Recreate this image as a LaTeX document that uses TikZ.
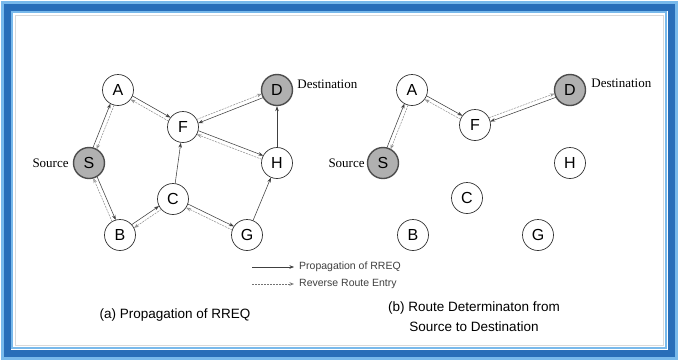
\documentclass[tikz,border=0pt]{standalone}
\usepackage{fontspec}
\setmainfont{Liberation Serif}
\setsansfont{Liberation Sans}
\usetikzlibrary{calc,arrows.meta}
\definecolor{frameblue}{RGB}{40,110,185}
\definecolor{framelight}{RGB}{120,185,235}
\tikzset{
  x=1pt,y=-1pt,
  nd/.style={circle,draw=black!80,line width=0.7pt,fill=white,minimum size=31pt,inner sep=0pt,font=\sffamily\fontsize{16}{16}\selectfont},
  endnd/.style={nd,fill=gray!62,line width=1.4pt,draw=black!70},
  arr/.style={draw=black!75,line width=0.55pt,-{Stealth[length=5pt,width=3.5pt]}},
  prop/.style={arr,shorten >=15.5pt,shorten <=15.5pt},
  rev/.style={draw=black!45,line width=0.5pt,dash pattern=on 2pt off 1pt,-{Stealth[length=5pt,width=3.5pt,open]},shorten >=15.5pt,shorten <=15.5pt},
  lbl/.style={font=\fontsize{13}{13}\selectfont,inner sep=1pt},
  leg/.style={font=\sffamily\fontsize{10.5}{10.5}\selectfont,text=black!75,anchor=west,inner sep=1pt},
  captxt/.style={font=\sffamily\fontsize{13.5}{20}\selectfont,align=center},
}
\newcommand\pairE[2]{%
  \path[prop] ($(#1)!2pt!90:(#2)$) -- ($(#2)!2pt!-90:(#1)$);
  \path[rev] ($(#2)!2pt!90:(#1)$) -- ($(#1)!2pt!-90:(#2)$);
}
\begin{document}
\begin{tikzpicture}
\useasboundingbox (0,0) rectangle (678,360);
\fill[white] (0,0) rectangle (678,360);
% frame
\draw[framelight,line width=3pt] (2,2) rectangle (676,358);
\draw[frameblue,line width=7pt] (7,7) rectangle (671,353);
\draw[framelight,line width=1.2pt] (12,12) rectangle (666,348);
\draw[black!15,line width=0.6pt] (15,15) rectangle (663,345);
% left panel
\node[nd] (A) at (118,90) {A};
\node[nd] (F) at (183,127) {F};
\node[endnd] (D) at (277,90) {D};
\node[nd] (H) at (277,163) {H};
\node[endnd] (S) at (89,163) {S};
\node[nd] (B) at (120,235) {B};
\node[nd] (C) at (173,199) {C};
\node[nd] (G) at (247,235) {G};
\node[lbl,anchor=east] (srcL) at ([xshift=-3pt]S.west) {Source};
\node[lbl,anchor=west] (dstL) at ([xshift=3pt,yshift=6pt]D.east) {Destination};
\pairE{S}{A}
\pairE{A}{F}
\pairE{S}{B}
\pairE{B}{C}
\pairE{C}{G}
\pairE{F}{H}
\pairE{D}{F}
\path[arr] (C) -- (F);
\path[arr] (G) -- (H);
\path[arr] (H) -- (D);
% right panel
\node[nd] (A2) at (412,90) {A};
\node[nd] (F2) at (475,125) {F};
\node[endnd] (D2) at (570,90) {D};
\node[nd] (H2) at (570,163) {H};
\node[endnd] (S2) at (383,163) {S};
\node[nd] (B2) at (413,235) {B};
\node[nd] (C2) at (467,198) {C};
\node[nd] (G2) at (538,235) {G};
\node[lbl,anchor=east] (srcR) at ([xshift=-1pt]S2.west) {Source};
\node[lbl,anchor=west] (dstR) at ([xshift=4pt,yshift=7pt]D2.east) {Destination};
\pairE{S2}{A2}
\pairE{A2}{F2}
\pairE{D2}{F2}
% legend
\coordinate (l1a) at (252,267);
\coordinate (l1b) at (294,267);
\coordinate (l2a) at (252,284);
\coordinate (l2b) at (294,284);
\draw[draw=black!75,line width=0.5pt,-{Stealth[length=4.5pt,width=3.5pt]}] (l1a) -- (l1b);
\draw[draw=black!55,line width=0.5pt,dash pattern=on 2pt off 1pt,-{Stealth[length=4.5pt,width=3.5pt,open]}] (l2a) -- (l2b);
\node[leg] (t1) at ([xshift=4pt]l1b) {Propagation of RREQ};
\node[leg] (t2) at ([xshift=4pt]l2b) {Reverse Route Entry};
% captions
\node[captxt] (capA) at (175,315) {(a) Propagation of RREQ};
\node[captxt] (capB) at (474,317) {(b) Route Determinaton from\\Source to Destination};
\end{tikzpicture}
\end{document}
